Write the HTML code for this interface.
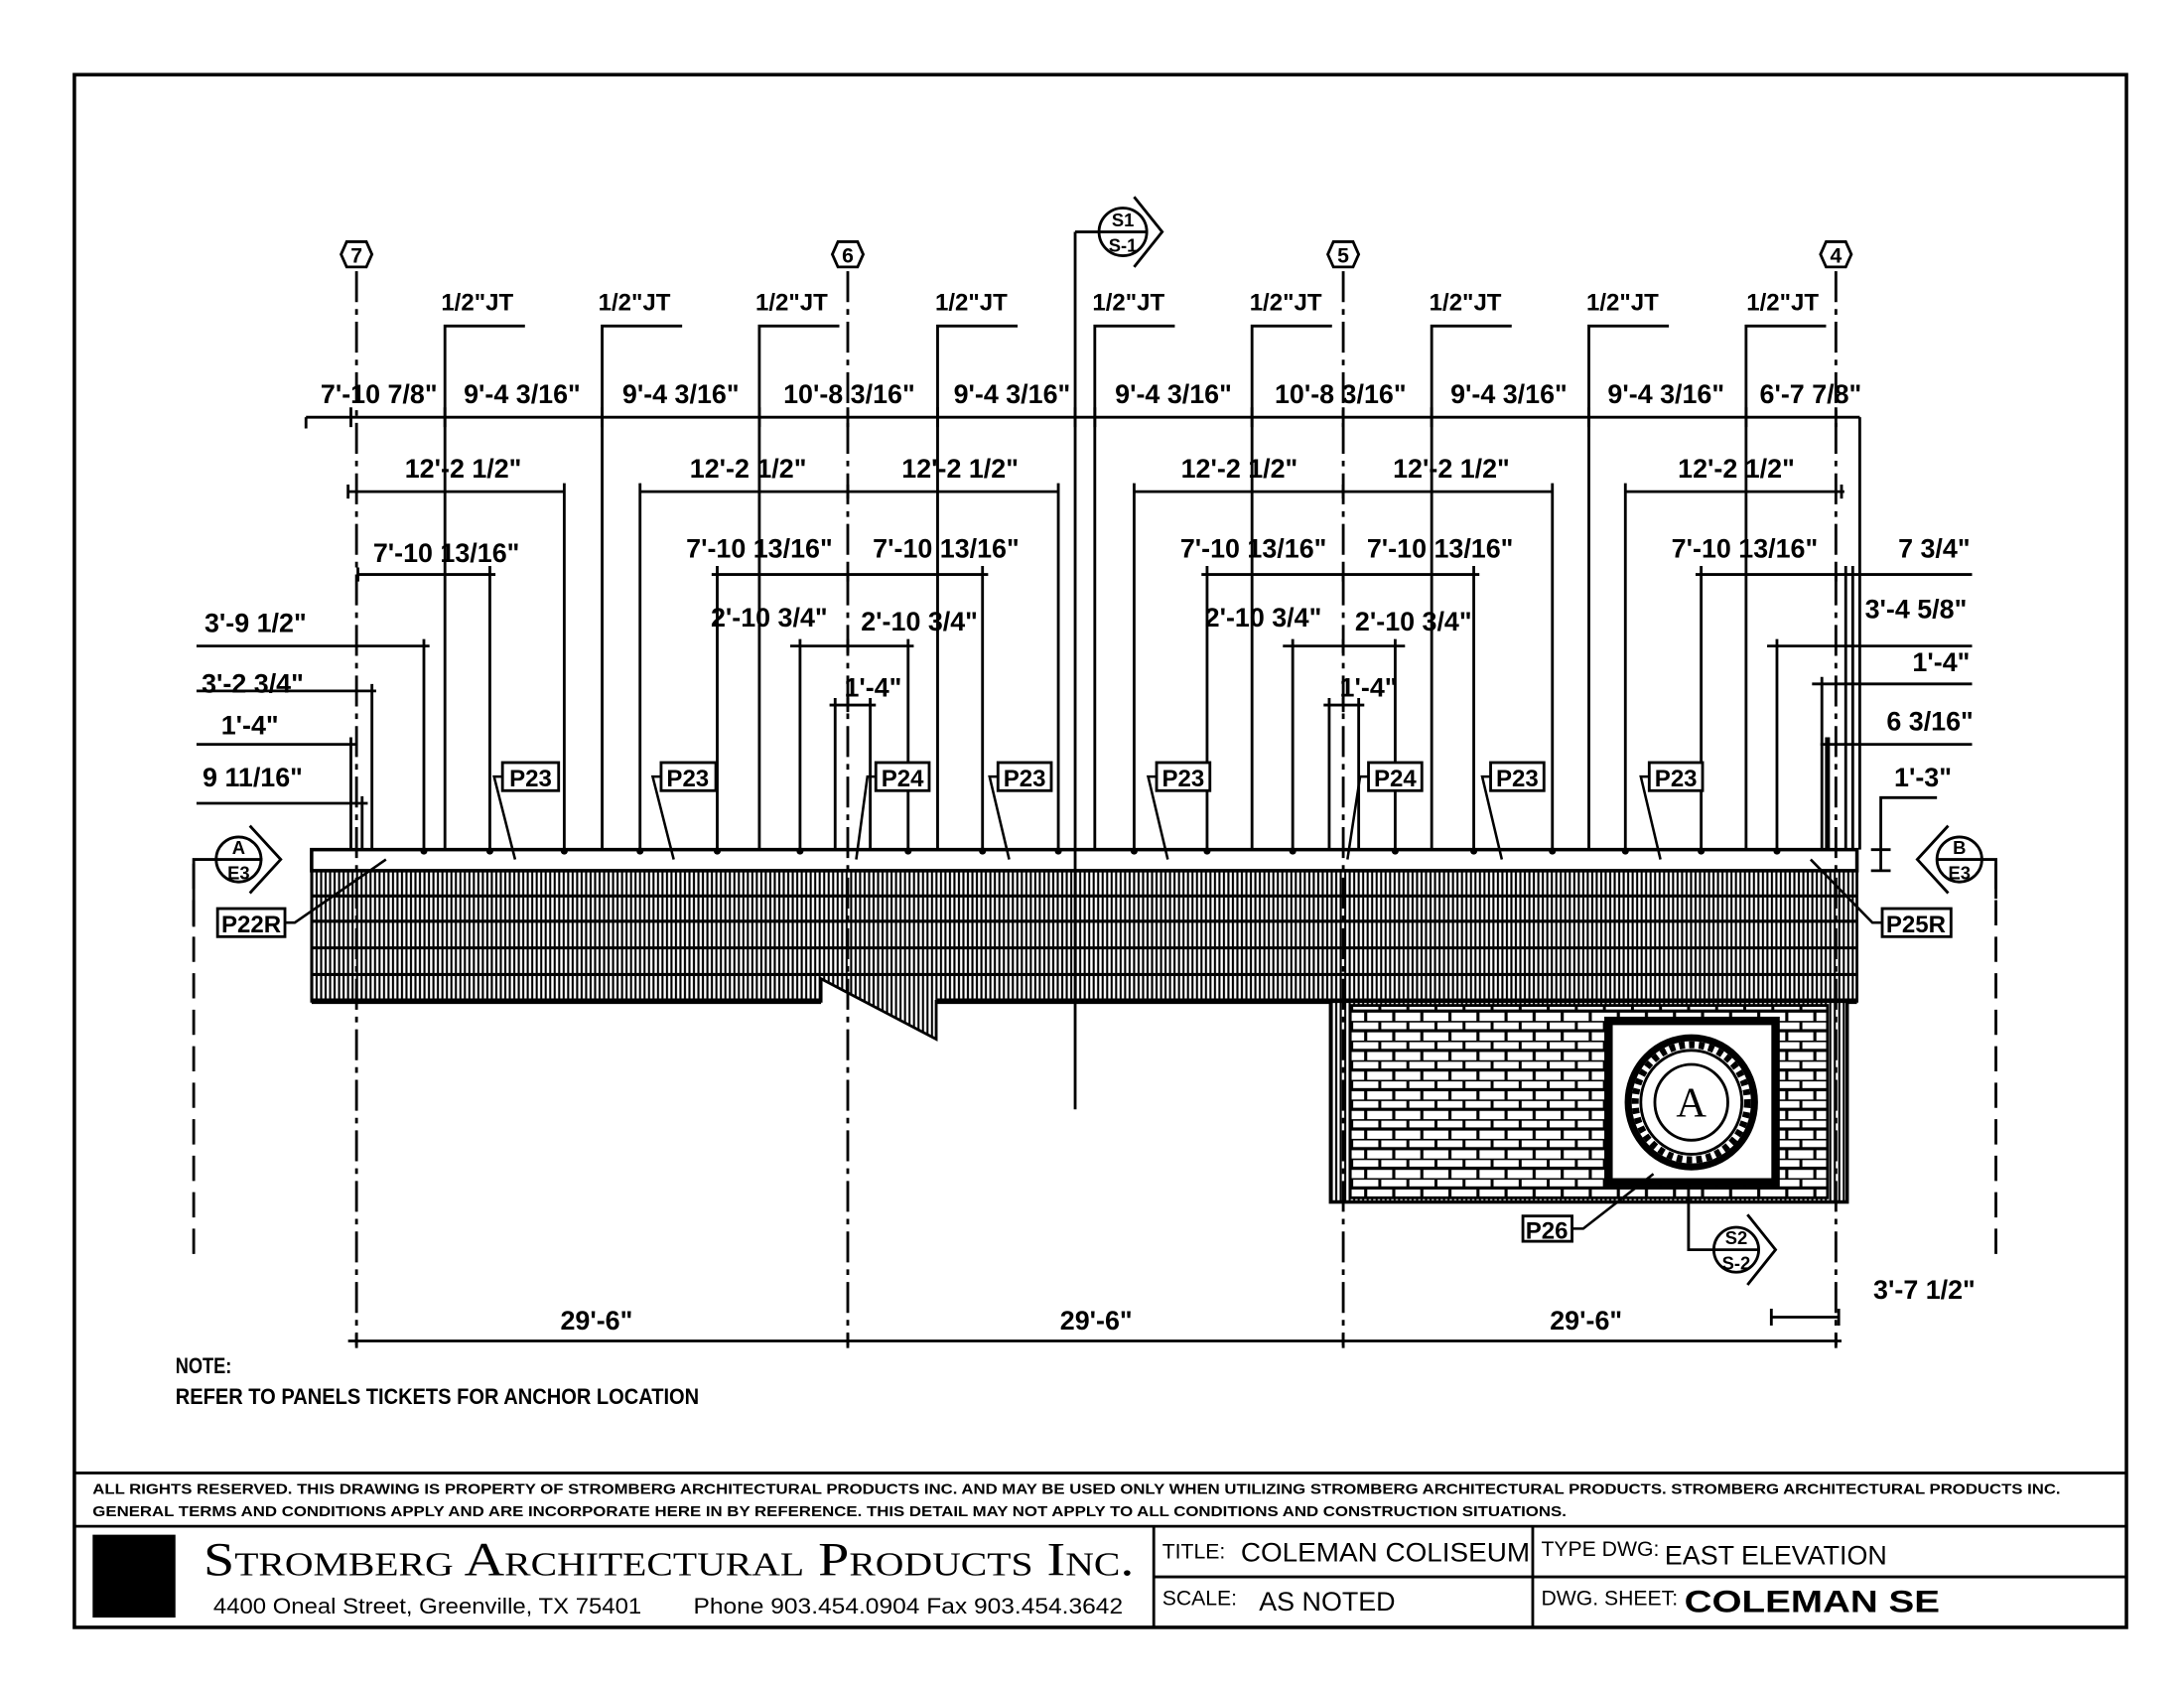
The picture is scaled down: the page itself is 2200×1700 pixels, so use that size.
<!DOCTYPE html>
<html><head><meta charset="utf-8"><style>
html,body{margin:0;padding:0;background:#fff;}
svg{display:block;}
text{font-family:"Liberation Sans",sans-serif;fill:#000;}
.d{font-size:19px;font-weight:bold;}
</style></head><body>
<svg width="2200" height="1700" viewBox="0 0 1556 1202" xmlns="http://www.w3.org/2000/svg">
<defs>
<pattern id="vh" width="3.2" height="10" patternUnits="userSpaceOnUse"><rect width="3.2" height="10" fill="#fff"/><line x1="1.6" y1="0" x2="1.6" y2="10" stroke="#000" stroke-width="1.5"/></pattern>
<pattern id="br" x="962" y="713" width="20" height="14" patternUnits="userSpaceOnUse"><rect width="20" height="14" fill="#fff"/><path d="M0 0H20M0 7H20M1 0V7M11 7V14" stroke="#000" stroke-width="2.2"/></pattern>
</defs>
<rect x="0" y="0" width="1556" height="1202" fill="#fff"/>
<rect x="53" y="53" width="1462" height="1106" fill="none" stroke="#000" stroke-width="2.5"/>
<line x1="53" y1="1049" x2="1515" y2="1049" stroke="#000" stroke-width="2"/>
<line x1="53" y1="1087" x2="1515" y2="1087" stroke="#000" stroke-width="2"/>
<line x1="822" y1="1087" x2="822" y2="1159" stroke="#000" stroke-width="2"/>
<line x1="1092" y1="1087" x2="1092" y2="1159" stroke="#000" stroke-width="2"/>
<line x1="822" y1="1123" x2="1515" y2="1123" stroke="#000" stroke-width="2"/>
<rect x="66" y="1093" width="59" height="59" fill="#000"/>
<text x="66" y="1064" font-size="10.5" font-weight="bold" textLength="1402" lengthAdjust="spacingAndGlyphs">ALL RIGHTS RESERVED. THIS DRAWING IS PROPERTY OF STROMBERG ARCHITECTURAL PRODUCTS INC. AND MAY BE USED ONLY WHEN UTILIZING STROMBERG ARCHITECTURAL PRODUCTS.  STROMBERG ARCHITECTURAL PRODUCTS INC.</text>
<text x="66" y="1080" font-size="10.5" font-weight="bold" textLength="1050" lengthAdjust="spacingAndGlyphs">GENERAL TERMS AND CONDITIONS APPLY AND ARE INCORPORATE HERE IN BY REFERENCE.  THIS DETAIL MAY NOT APPLY TO ALL CONDITIONS AND CONSTRUCTION SITUATIONS.</text>
<text x="145" y="1122" font-size="34" style="font-family:'Liberation Serif',serif;font-variant:small-caps" textLength="663" lengthAdjust="spacingAndGlyphs">Stromberg Architectural Products Inc.</text>
<text x="152" y="1149" font-size="16" textLength="305" lengthAdjust="spacingAndGlyphs">4400 Oneal Street, Greenville, TX  75401</text>
<text x="494" y="1149" font-size="16" textLength="306" lengthAdjust="spacingAndGlyphs">Phone 903.454.0904   Fax 903.454.3642</text>
<text x="828" y="1110" font-size="15">TITLE:</text>
<text x="884" y="1112" font-size="19" textLength="206" lengthAdjust="spacingAndGlyphs">COLEMAN COLISEUM</text>
<text x="1098" y="1108" font-size="15">TYPE DWG:</text>
<text x="1186" y="1114" font-size="19">EAST ELEVATION</text>
<text x="828" y="1143" font-size="15">SCALE:</text>
<text x="897" y="1147" font-size="19">AS NOTED</text>
<text x="1098" y="1143" font-size="15">DWG. SHEET:</text>
<text x="1200" y="1148" font-size="22" font-weight="bold" textLength="182" lengthAdjust="spacingAndGlyphs">COLEMAN SE</text>

<text x="125" y="978" class="d" style="font-size:16px" textLength="40" lengthAdjust="spacingAndGlyphs">NOTE:</text>
<text x="125" y="1000" class="d" style="font-size:16px" textLength="373" lengthAdjust="spacingAndGlyphs">REFER TO PANELS TICKETS FOR ANCHOR LOCATION</text>

<polygon points="222,620 1323,620 1323,713 667,713 667,740 585,697 585,713 222,713" fill="url(#vh)" stroke="#000" stroke-width="2"/>
<g stroke="#000" stroke-width="2.2">
<line x1="222" y1="638" x2="1323" y2="638"/><line x1="222" y1="656" x2="1323" y2="656"/>
<line x1="222" y1="675" x2="1323" y2="675"/><line x1="222" y1="694" x2="1323" y2="694"/>
<line x1="222" y1="713" x2="585" y2="713" stroke-width="4"/><line x1="667" y1="713" x2="1323" y2="713" stroke-width="4"/>
</g>
<rect x="222" y="605" width="1101" height="15" fill="#fff" stroke="#000" stroke-width="2.5"/>
<rect x="948" y="713" width="368" height="143" fill="url(#vh)" stroke="#000" stroke-width="2.5"/>
<rect x="962" y="716" width="340" height="137" fill="url(#br)" stroke="#000" stroke-width="2"/>
<rect x="1146" y="727" width="119" height="115" fill="#fff" stroke="#000" stroke-width="6"/>
<ellipse cx="1205" cy="785" rx="45" ry="46" fill="#fff" stroke="#000" stroke-width="5"/>
<ellipse cx="1205" cy="785" rx="36" ry="37" fill="none" stroke="#000" stroke-width="2"/>
<ellipse cx="1205" cy="785" rx="26" ry="27" fill="none" stroke="#000" stroke-width="2"/>
<text x="1205" y="795" font-size="30" text-anchor="middle" style="font-family:'Liberation Serif',serif">A</text>
<ellipse cx="1205" cy="785" rx="40" ry="41" fill="none" stroke="#000" stroke-width="5" stroke-dasharray="4,3"/>

<g stroke="#000" stroke-width="2" stroke-dasharray="22,5,4,5">
<line x1="254" y1="193" x2="254" y2="958"/><line x1="604" y1="193" x2="604" y2="958"/>
<line x1="957" y1="193" x2="957" y2="958"/><line x1="1308" y1="193" x2="1308" y2="958"/>
</g>
<g stroke="#000" stroke-width="2" stroke-dasharray="18,8">
<line x1="138" y1="615" x2="138" y2="893"/><line x1="1422" y1="615" x2="1422" y2="893"/>
</g>
<line x1="766" y1="165" x2="766" y2="790" stroke="#000" stroke-width="2"/>
<g fill="#fff" stroke="#000" stroke-width="2">
<polygon points="247,172 261,172 265,181 261,190 247,190 243,181"/>
<polygon points="597,172 611,172 615,181 611,190 597,190 593,181"/>
<polygon points="950,172 964,172 968,181 964,190 950,190 946,181"/>
<polygon points="1301,172 1315,172 1319,181 1315,190 1301,190 1297,181"/>
</g>
<g font-size="15" font-weight="bold" text-anchor="middle">
<text x="254" y="187">7</text><text x="604" y="187">6</text><text x="957" y="187">5</text><text x="1308" y="187">4</text>
</g>
<g stroke="#000" stroke-width="2" fill="none">
<circle cx="800" cy="165" r="17"/><path d="M808 140 L828 165 L808 190"/><line x1="766" y1="165" x2="817" y2="165"/>
<polyline points="1203,840 1203,890 1222,890"/><circle cx="1237" cy="890" r="16"/><path d="M1245 865 L1265 890 L1245 915"/><line x1="1221" y1="890" x2="1253" y2="890"/>
<circle cx="170" cy="612" r="16"/><path d="M178 588 L200 612 L178 636"/><polyline points="138,660 138,612 187,612"/>
<circle cx="1396" cy="612" r="16"/><path d="M1388 588 L1366 612 L1388 636"/><polyline points="1380,612 1422,612 1422,640"/>
</g>
<g font-size="13" font-weight="bold" text-anchor="middle">
<text x="800" y="161">S1</text><text x="800" y="179">S-1</text>
<text x="1237" y="886">S2</text><text x="1237" y="904">S-2</text>
<text x="170" y="608">A</text><text x="170" y="626">E3</text>
<text x="1396" y="608">B</text><text x="1396" y="626">E3</text>
</g>

<g stroke="#000" stroke-width="2" fill="none">
<path fill="none" d="M317 605V232H374M429 605V232H486M541 605V232H598M668 605V232H725M780 605V232H837M892 605V232H949M1020 605V232H1077M1132 605V232H1189M1244 605V232H1301"/>
</g>
<g class="d" text-anchor="middle" style="font-size:17px">
<text x="340" y="221">1/2"JT</text><text x="452" y="221">1/2"JT</text><text x="564" y="221">1/2"JT</text>
<text x="692" y="221">1/2"JT</text><text x="804" y="221">1/2"JT</text><text x="916" y="221">1/2"JT</text>
<text x="1044" y="221">1/2"JT</text><text x="1156" y="221">1/2"JT</text><text x="1270" y="221">1/2"JT</text>
</g>

<g stroke="#000" stroke-width="2" fill="none">
<line x1="218" y1="297" x2="1325" y2="297"/>
<line x1="218" y1="297" x2="218" y2="305"/><line x1="1325" y1="297" x2="1325" y2="605"/>
<line x1="248" y1="350" x2="402" y2="350"/><line x1="456" y1="350" x2="754" y2="350"/>
<line x1="808" y1="350" x2="1106" y2="350"/><line x1="1158" y1="350" x2="1314" y2="350"/>
<line x1="402" y1="344" x2="402" y2="605"/><line x1="456" y1="344" x2="456" y2="605"/>
<line x1="754" y1="344" x2="754" y2="605"/><line x1="808" y1="344" x2="808" y2="605"/>
<line x1="1106" y1="344" x2="1106" y2="605"/><line x1="1158" y1="344" x2="1158" y2="605"/>
<line x1="255" y1="409" x2="353" y2="409"/><line x1="507" y1="409" x2="704" y2="409"/>
<line x1="856" y1="409" x2="1054" y2="409"/><line x1="1208" y1="409" x2="1405" y2="409"/>
<line x1="349" y1="403" x2="349" y2="605"/><line x1="511" y1="403" x2="511" y2="605"/>
<line x1="700" y1="403" x2="700" y2="605"/><line x1="860" y1="403" x2="860" y2="605"/>
<line x1="1050" y1="403" x2="1050" y2="605"/><line x1="1212" y1="403" x2="1212" y2="605"/>
<line x1="1315" y1="403" x2="1315" y2="605"/><line x1="1320" y1="403" x2="1320" y2="605"/>
<line x1="140" y1="460" x2="306" y2="460"/><line x1="302" y1="455" x2="302" y2="605"/>
<line x1="563" y1="460" x2="651" y2="460"/><line x1="570" y1="455" x2="570" y2="605"/><line x1="647" y1="455" x2="647" y2="605"/>
<line x1="914" y1="460" x2="1001" y2="460"/><line x1="921" y1="455" x2="921" y2="605"/><line x1="994" y1="455" x2="994" y2="605"/>
<line x1="1259" y1="460" x2="1405" y2="460"/><line x1="1266" y1="455" x2="1266" y2="605"/>
<line x1="140" y1="492" x2="268" y2="492"/><line x1="265" y1="487" x2="265" y2="605"/>
<line x1="591" y1="502" x2="624" y2="502"/><line x1="595" y1="497" x2="595" y2="605"/><line x1="620" y1="497" x2="620" y2="605"/>
<line x1="943" y1="502" x2="972" y2="502"/><line x1="947" y1="497" x2="947" y2="605"/><line x1="968" y1="497" x2="968" y2="605"/>
<line x1="1291" y1="487" x2="1405" y2="487"/><line x1="1298" y1="482" x2="1298" y2="605"/>
<line x1="140" y1="530" x2="254" y2="530"/><line x1="250" y1="525" x2="250" y2="605"/>
<line x1="1297" y1="530" x2="1405" y2="530"/><line x1="1302" y1="525" x2="1302" y2="605" stroke-width="3.5"/>
<line x1="140" y1="572" x2="262" y2="572"/><line x1="258" y1="567" x2="258" y2="605"/>
<polyline points="1380,568 1340,568 1340,620"/>
<line x1="1333" y1="605" x2="1347" y2="605"/><line x1="1333" y1="620" x2="1347" y2="620"/>
<line x1="248" y1="955" x2="1312" y2="955"/>
<line x1="1262" y1="938" x2="1310" y2="938"/><line x1="1262" y1="932" x2="1262" y2="944"/>
</g>
<g stroke="#000" stroke-width="2" fill="none">
<path d="M250 290V304M317 290V304M429 290V304M541 290V304M604 290V304M668 290V304M766 290V304M780 290V304M892 290V304M957 290V304M1020 290V304M1132 290V304M1244 290V304M1308 290V304"/>
<path d="M248 345V355M604 345V355M957 345V355M1312 345V355M255 404V414M604 404V414M957 404V414M1308 404V414"/>
<path d="M604 455V465M957 455V465M604 497V507M957 497V507M254 950V960M604 950V960M957 950V960M1308 950V960M1310 932V944"/>
</g>
<g fill="#000">
<circle cx="302" cy="606" r="2.5"/><circle cx="349" cy="606" r="2.5"/><circle cx="402" cy="606" r="2.5"/><circle cx="456" cy="606" r="2.5"/>
<circle cx="511" cy="606" r="2.5"/><circle cx="570" cy="606" r="2.5"/><circle cx="647" cy="606" r="2.5"/><circle cx="700" cy="606" r="2.5"/>
<circle cx="754" cy="606" r="2.5"/><circle cx="808" cy="606" r="2.5"/><circle cx="860" cy="606" r="2.5"/><circle cx="921" cy="606" r="2.5"/>
<circle cx="994" cy="606" r="2.5"/><circle cx="1050" cy="606" r="2.5"/><circle cx="1106" cy="606" r="2.5"/><circle cx="1158" cy="606" r="2.5"/>
<circle cx="1212" cy="606" r="2.5"/><circle cx="1266" cy="606" r="2.5"/>
</g>

<g class="d" text-anchor="middle">
<text x="270" y="287">7'-10 7/8"</text><text x="372" y="287">9'-4 3/16"</text><text x="485" y="287">9'-4 3/16"</text>
<text x="605" y="287">10'-8 3/16"</text><text x="721" y="287">9'-4 3/16"</text><text x="836" y="287">9'-4 3/16"</text>
<text x="955" y="287">10'-8 3/16"</text><text x="1075" y="287">9'-4 3/16"</text><text x="1187" y="287">9'-4 3/16"</text>
<text x="1290" y="287">6'-7 7/8"</text>
<text x="330" y="340">12'-2 1/2"</text><text x="533" y="340">12'-2 1/2"</text><text x="684" y="340">12'-2 1/2"</text>
<text x="883" y="340">12'-2 1/2"</text><text x="1034" y="340">12'-2 1/2"</text><text x="1237" y="340">12'-2 1/2"</text>
<text x="318" y="400">7'-10 13/16"</text><text x="541" y="397">7'-10 13/16"</text><text x="674" y="397">7'-10 13/16"</text>
<text x="893" y="397">7'-10 13/16"</text><text x="1026" y="397">7'-10 13/16"</text><text x="1243" y="397">7'-10 13/16"</text>
<text x="1378" y="397">7 3/4"</text>
<text x="182" y="450">3'-9 1/2"</text><text x="548" y="446">2'-10 3/4"</text><text x="655" y="449">2'-10 3/4"</text>
<text x="900" y="446">2'-10 3/4"</text><text x="1007" y="449">2'-10 3/4"</text><text x="1365" y="440">3'-4 5/8"</text>
<text x="180" y="493">3'-2 3/4"</text><text x="622" y="496">1'-4"</text><text x="975" y="496">1'-4"</text><text x="1383" y="478">1'-4"</text>
<text x="178" y="523">1'-4"</text><text x="1375" y="520">6 3/16"</text>
<text x="180" y="560">9 11/16"</text><text x="1370" y="560">1'-3"</text>
<text x="425" y="947">29'-6"</text><text x="781" y="947">29'-6"</text><text x="1130" y="947">29'-6"</text>
<text x="1371" y="925">3'-7 1/2"</text>
</g>

<g fill="#fff" stroke="#000" stroke-width="2">
<rect x="358" y="543" width="40" height="20"/><rect x="471" y="543" width="39" height="20"/>
<rect x="624" y="543" width="38" height="20"/><rect x="711" y="543" width="38" height="20"/>
<rect x="824" y="543" width="38" height="20"/><rect x="975" y="543" width="38" height="20"/>
<rect x="1062" y="543" width="38" height="20"/><rect x="1175" y="543" width="38" height="20"/>
<rect x="155" y="647" width="48" height="20"/><rect x="1341" y="647" width="49" height="20"/>
<rect x="1085" y="866" width="35" height="18"/>
</g>
<g fill="none" stroke="#000" stroke-width="1.8">
<polyline points="358,553 352,553 367,612"/><polyline points="471,553 465,553 480,612"/>
<polyline points="624,553 618,553 610,612"/><polyline points="711,553 705,553 719,612"/>
<polyline points="824,553 818,553 832,612"/><polyline points="975,553 969,553 960,612"/>
<polyline points="1062,553 1056,553 1070,612"/><polyline points="1175,553 1169,553 1183,612"/>
<polyline points="203,657 210,657 275,612"/><polyline points="1341,657 1334,657 1290,612"/>
<polyline points="1120,875 1128,875 1178,836"/>
</g>
<g class="d" text-anchor="middle" style="font-size:17px">
<text x="378" y="560">P23</text><text x="490" y="560">P23</text><text x="643" y="560">P24</text><text x="730" y="560">P23</text>
<text x="843" y="560">P23</text><text x="994" y="560">P24</text><text x="1081" y="560">P23</text><text x="1194" y="560">P23</text>
<text x="179" y="664">P22R</text><text x="1365" y="664">P25R</text><text x="1102" y="882">P26</text>
</g>
</svg>
</body></html>
